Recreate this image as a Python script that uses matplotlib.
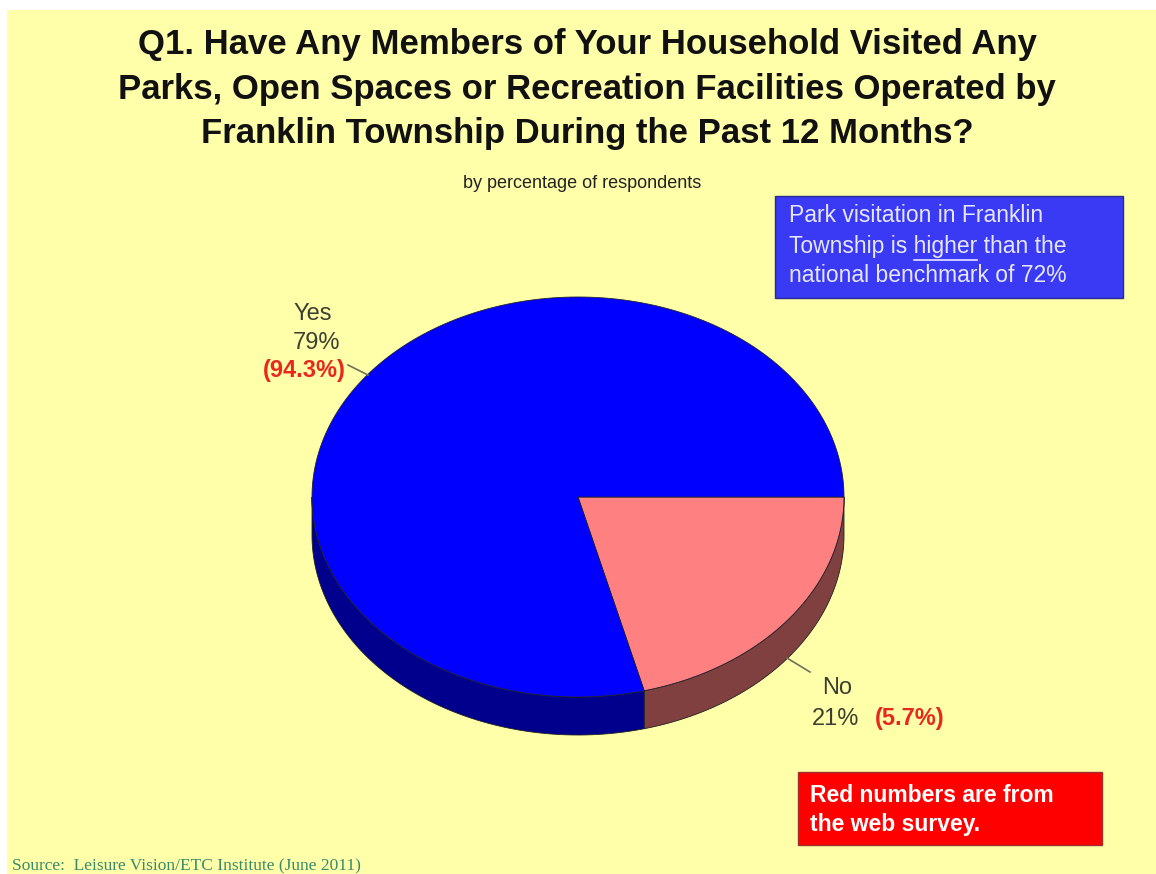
import numpy as np
import matplotlib.pyplot as plt
from matplotlib.patches import Polygon, Rectangle

# ── Data ──────────────────────────────────────────────────────────────────────
labels = ["Yes", "No"]
phone_pct = [79, 21]
web_pct = [94.3, 5.7]

title = ("Q1. Have Any Members of Your Household Visited Any\n"
         "Parks, Open Spaces or Recreation Facilities Operated by\n"
         "Franklin Township During the Past 12 Months?")
subtitle = "by percentage of respondents"
source = "Source:  Leisure Vision/ETC Institute (June 2011)"

# ── Styling ───────────────────────────────────────────────────────────────────
W, H = 1156, 874
bg = "#FFFFAA"
top_colors = ["#0000FF", "#FF8080"]
side_colors = ["#00008C", "#804040"]
label_color = "#3C4030"
red_txt = "#E8281E"

plt.rcParams["font.family"] = ["Liberation Sans", "DejaVu Sans"]

fig = plt.figure(figsize=(W / 100, H / 100), dpi=100)
fig.patch.set_facecolor("white")
ax = fig.add_axes([0, 0, 1, 1])
ax.set_xlim(0, W)
ax.set_ylim(H, 0)
ax.axis("off")

ax.add_patch(Rectangle((7, 10), W - 7, H - 10, facecolor=bg, edgecolor="none", zorder=0))

# ── Title ─────────────────────────────────────────────────────────────────────
ax.text(587, 89, title, ha="center", va="center", fontsize=25, fontweight="bold",
        linespacing=1.45, color="#111111")
ax.text(582, 184, subtitle, ha="center", va="center", fontsize=13, color="#222222")

# ── 3D-ish pie ────────────────────────────────────────────────────────────────
cx, cy, rx, ry, depth = 578, 497, 266, 200, 38

# slices go clockwise from 3 o'clock; screen y points down so clockwise = +angle
fracs = np.array(phone_pct, dtype=float) / sum(phone_pct)
# "No" starts at 0 deg, "Yes" follows
order = [1, 0]
start = 0.0
spans = {}
for i in order:
    spans[i] = (start, start + fracs[i] * 360)
    start += fracs[i] * 360


def rim(t0, t1, off=0.0, n=200):
    t = np.radians(np.linspace(t0, t1, n))
    return np.column_stack([cx + rx * np.cos(t), cy + off + ry * np.sin(t)])


# side walls (visible front half: 0..180 in screen-down angles)
for i in order:
    t0, t1 = spans[i]
    a, b = max(t0, 0), min(t1, 180)
    if b > a:
        up = rim(a, b)
        down = rim(b, a, off=depth)
        ax.add_patch(Polygon(np.vstack([up, down]), closed=True, facecolor=side_colors[i],
                             edgecolor="#202020", linewidth=0.6, zorder=2))

# top faces
for i in order:
    t0, t1 = spans[i]
    pts = np.vstack([[cx, cy], rim(t0, t1)])
    ax.add_patch(Polygon(pts, closed=True, facecolor=top_colors[i],
                         edgecolor="#202030", linewidth=0.6, zorder=3))

# ── Labels with leader lines ──────────────────────────────────────────────────
ax.plot([348, 368], [365, 375], color="#70705A", linewidth=1.2, zorder=4)
ax.text(313, 314, labels[0], ha="center", va="center", fontsize=17, color=label_color)
ax.text(317, 343, f"{phone_pct[0]}%", ha="center", va="center", fontsize=17, color=label_color)
ax.text(304, 371, f"({web_pct[0]}%)", ha="center", va="center", fontsize=17,
        fontweight="bold", color=red_txt)

ax.plot([787, 810], [658, 672], color="#70705A", linewidth=1.2, zorder=4)
ax.text(837, 688, labels[1], ha="center", va="center", fontsize=17, color=label_color)
ax.text(812, 719, f"{phone_pct[1]}%", ha="left", va="center", fontsize=17, color=label_color)
ax.text(875, 719, f"({web_pct[1]}%)", ha="left", va="center", fontsize=17,
        fontweight="bold", color=red_txt)

# ── Callout boxes ─────────────────────────────────────────────────────────────
ax.add_patch(Rectangle((775, 196), 348, 102, facecolor="#3A3AF4", edgecolor="#2A2A90",
                       linewidth=1, zorder=2))
box_lines = ["Park visitation in Franklin", "Township is higher than the",
             "national benchmark of 72%"]
box_col = "#E6E6FF"
box_fs = 16.5
for k, line in enumerate(box_lines):
    ax.text(789, 216 + k * 30, line, ha="left", va="center", fontsize=box_fs,
            color=box_col, zorder=3)

# underline "higher"
fig.canvas.draw()
r = fig.canvas.get_renderer()
inv = ax.transData.inverted()


def width_of(s):
    t = ax.text(0, 0, s, fontsize=box_fs)
    bb = t.get_window_extent(renderer=r)
    t.remove()
    x0 = inv.transform((bb.x0, 0))[0]
    x1 = inv.transform((bb.x1, 0))[0]
    return x1 - x0


w_all = width_of("Township is higher")
w_h = width_of("higher")
ax.plot([789 + w_all - w_h, 789 + w_all], [260, 260], color=box_col, linewidth=1.2, zorder=3)

ax.add_patch(Rectangle((798, 772), 304, 73, facecolor="#FF0000", edgecolor="#A03030",
                       linewidth=1, zorder=2))
ax.text(810, 795, "Red numbers are from", ha="left", va="center", fontsize=16.5,
        fontweight="bold", color="white", zorder=3)
ax.text(810, 825, "the web survey.", ha="left", va="center", fontsize=16.5,
        fontweight="bold", color="white", zorder=3)

# ── Source ────────────────────────────────────────────────────────────────────
ax.text(12, 866, source, ha="left", va="center", fontsize=12.5, color="#3A8A6A",
        family=["Liberation Serif", "DejaVu Serif"])

fig.savefig("out.png", dpi=100, facecolor=fig.get_facecolor())
